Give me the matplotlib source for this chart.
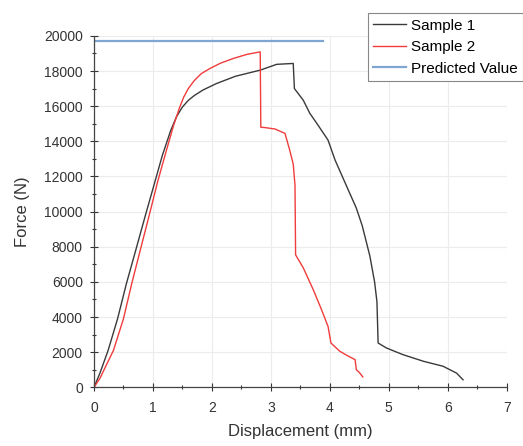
import matplotlib
matplotlib.use("Agg")
import matplotlib.pyplot as plt
from matplotlib.ticker import MultipleLocator

plt.rcParams['font.family'] = ['Liberation Sans', 'DejaVu Sans']

# force-displacement curves
sample1_x = [0, 0.1, 0.24, 0.4, 0.55, 0.7, 0.865, 1.0, 1.16, 1.3, 1.4, 1.5, 1.6, 1.7,
             1.85, 2.08, 2.4, 2.82, 3.1, 3.38, 3.4, 3.55, 3.66, 3.80, 3.97, 4.09, 4.29,
             4.45, 4.55, 4.68, 4.76, 4.80, 4.82, 4.96, 5.24, 5.59, 5.92, 6.15, 6.26]
sample1_y = [0, 800, 2100, 3900, 5900, 7700, 9700, 11300, 13200, 14600, 15400, 15950, 16330, 16600,
             16920, 17290, 17700, 18050, 18380, 18430, 17000, 16340, 15600, 14920, 14070, 12930, 11410,
             10200, 9200, 7470, 6000, 4870, 2520, 2240, 1860, 1480, 1200, 810, 430]

sample2_x = [0, 0.1, 0.2, 0.33, 0.5, 0.64, 0.8, 0.93, 1.08, 1.23, 1.35, 1.45, 1.52, 1.6,
             1.7, 1.82, 1.97, 2.15, 2.36, 2.6, 2.82, 2.83, 2.9, 3.07, 3.24, 3.32, 3.38,
             3.41, 3.42, 3.55, 3.72, 3.85, 3.97, 4.0, 4.02, 4.17, 4.30, 4.43, 4.45, 4.5, 4.56]
sample2_y = [0, 500, 1200, 2100, 3900, 5900, 8000, 9700, 11700, 13500, 14900, 15900, 16500, 17000,
             17450, 17850, 18150, 18450, 18710, 18950, 19090, 14800, 14780, 14700, 14450, 13500, 12700,
             11500, 7540, 6800, 5550, 4500, 3470, 2900, 2520, 2050, 1800, 1570, 1000, 850, 590]

predicted_x = [0, 3.88]
predicted_y = [19700, 19700]

fig = plt.figure(figsize=(5.23, 4.46), dpi=100)
ax = fig.add_axes([0.1797, 0.1316, 0.789, 0.788])

ax.plot(sample1_x, sample1_y, color='#3a3a3a', lw=1.0, label='Sample 1')
ax.plot(sample2_x, sample2_y, color='#f03c3c', lw=1.0, label='Sample 2')
ax.plot(predicted_x, predicted_y, color='#7fa6d2', lw=1.6, label='Predicted Value')

ax.set_xlim(0, 7)
ax.set_ylim(0, 20000)
ax.xaxis.set_major_locator(MultipleLocator(1))
ax.xaxis.set_minor_locator(MultipleLocator(0.5))
ax.yaxis.set_major_locator(MultipleLocator(2000))
ax.yaxis.set_minor_locator(MultipleLocator(1000))
ax.tick_params(which='major', direction='inout', length=6, width=0.8, labelsize=10,
               colors='#333333', labelcolor='#333333', pad=5)
ax.tick_params(axis='x', which='major', pad=7)
ax.tick_params(which='minor', direction='inout', length=3, width=0.8, colors='#333333')

for s in ['top', 'right']:
    ax.spines[s].set_visible(False)
for s in ['left', 'bottom']:
    ax.spines[s].set_color('#444444')
    ax.spines[s].set_linewidth(0.9)

ax.grid(True, which='major', color='#ececec', lw=0.8)
ax.set_axisbelow(True)

ax.set_xlabel('Displacement (mm)', fontsize=12, color='#333333', labelpad=6)
ax.set_ylabel('Force (N)', fontsize=12, color='#333333', labelpad=10)

leg = ax.legend(loc='upper left', bbox_to_anchor=(0.664, 1.0646), fontsize=11,
                frameon=True, fancybox=False, edgecolor='#888888', framealpha=1,
                handlelength=2.15, handletextpad=0.33, labelspacing=0.5,
                borderpad=0.35, borderaxespad=0)
leg.get_frame().set_linewidth(0.8)

fig.savefig('out.png', dpi=100)
